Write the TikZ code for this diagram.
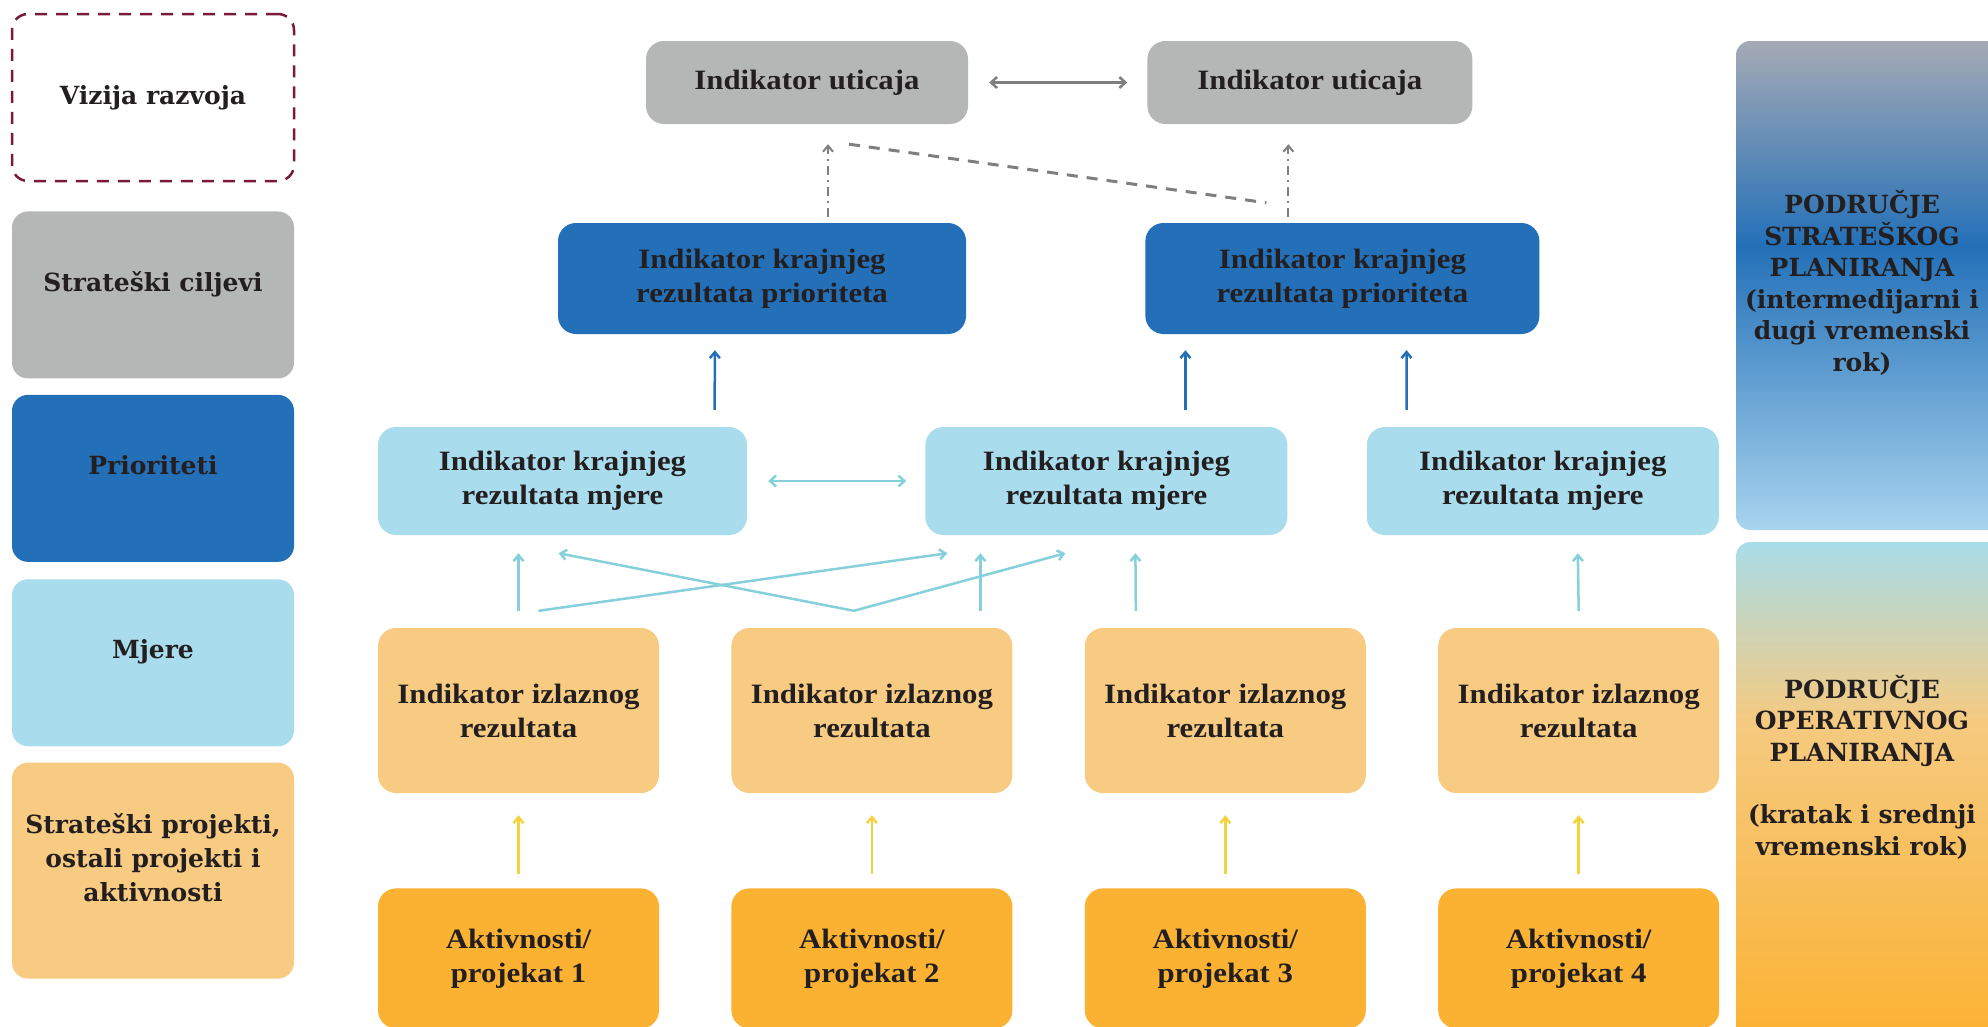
\documentclass[tikz,border=0pt]{standalone}
\usepackage{fontspec}
\usetikzlibrary{positioning, arrows.meta}
\setmainfont{Liberation Serif}
\newfontfamily\boxfont[FakeStretch=1.1]{Liberation Serif}
\newfontfamily\widefont{DejaVu Serif}
\definecolor{txtC}{HTML}{231F20}
\definecolor{grayC}{HTML}{B5B6B6}
\definecolor{blueC}{HTML}{2370B8}
\definecolor{lblueC}{HTML}{A9DDED}
\definecolor{lorangeC}{HTML}{F7CB82}
\definecolor{orangeC}{HTML}{FBB232}
\definecolor{visionC}{HTML}{7A1A3A}
\definecolor{garrC}{HTML}{7F7F7F}
\definecolor{larrC}{HTML}{86D0DC}
\definecolor{yarrC}{HTML}{F5D33F}
\definecolor{stratTop}{HTML}{A5AAB5}
\definecolor{stratBot}{HTML}{A8D4EE}
\definecolor{operTop}{HTML}{A9DDE9}
\definecolor{operMid}{HTML}{F5CA80}
\pgfdeclareverticalshading{stratshade}{100bp}{color(0bp)=(stratBot); color(25bp)=(stratBot); color(54bp)=(blueC); color(75bp)=(stratTop); color(100bp)=(stratTop)}
\pgfdeclareverticalshading{opershade}{100bp}{color(0bp)=(orangeC); color(25bp)=(orangeC); color(57bp)=(operMid); color(75bp)=(operTop); color(100bp)=(operTop)}

\begin{document}
\begin{tikzpicture}[x=1pt, y=1pt,
  lvl/.style={rectangle, rounded corners=16pt, minimum width=282pt,
              minimum height=167pt, align=center, text=txtC, inner sep=0pt,
              font=\widefont\bfseries\fontsize{25}{34}\selectfont},
  lvlup/.style={lvl, text depth=27pt},
  ind/.style={rectangle, rounded corners=18pt, align=center, text=txtC,
              inner sep=0pt, font=\boxfont\bfseries\fontsize{28}{34}\selectfont},
  izl/.style={ind, fill=lorangeC, minimum width=281pt, minimum height=165pt},
  akt/.style={ind, fill=orangeC, minimum width=281pt, minimum height=140pt},
  panel/.style={align=center, text=txtC,
                font=\widefont\bfseries\fontsize{25}{31.5}\selectfont},
  garr/.style={{Straight Barb[length=6pt, width=11pt]}-{Straight Barb[length=6pt, width=11pt]},
               line width=2.5pt, garrC},
  dotarr/.style={-{Straight Barb[length=6pt, width=10pt]}, line width=2pt, garrC,
                 dash pattern=on 9pt off 5pt on 2pt off 5pt},
  dashln/.style={line width=3pt, garrC, dash pattern=on 11pt off 9pt},
  bluearr/.style={-{Straight Barb[length=6pt, width=10pt]}, line width=2.5pt, blueC},
  lbarr/.style={-{Straight Barb[length=6pt, width=10pt]}, line width=2.5pt, larrC},
  lbarr2/.style={{Straight Barb[length=6pt, width=11pt]}-{Straight Barb[length=6pt, width=11pt]},
                 line width=2.5pt, larrC},
  yarr/.style={-{Straight Barb[length=6pt, width=10pt]}, line width=2.5pt, yarrC},
  node distance=72pt
]
\useasboundingbox (0,0) rectangle (1988,-1026);

\node[lvl, draw=visionC, line width=2.5pt, dash pattern=on 12pt off 9pt]
     (vizija) at (153,-97.5) {Vizija razvoja};
\node[lvlup, fill=grayC, below=29pt of vizija]   (ciljevi)  {Strateški ciljevi};
\node[lvlup, fill=blueC, below=16pt of ciljevi]  (prior)    {Prioriteti};
\node[lvlup, fill=lblueC, below=17pt of prior]   (mjere)    {Mjere};
\node[lvlup, fill=lorangeC, minimum height=216pt, below=16pt of mjere]
     (projekti) {Strateški projekti,\\ ostali projekti i\\ aktivnosti};

\node[ind, fill=grayC, minimum width=322pt, minimum height=83pt]
     (uticaj1) at (807,-82.5) {Indikator uticaja};
\node[ind, fill=grayC, minimum width=325pt, minimum height=83pt, right=179pt of uticaj1]
     (uticaj2) {Indikator uticaja};

\node[ind, fill=blueC, minimum width=408pt, minimum height=111pt]
     (kp1) at (762,-278.5) {Indikator krajnjeg\\ rezultata prioriteta};
\node[ind, fill=blueC, minimum width=394pt, minimum height=111pt, right=179pt of kp1]
     (kp2) {Indikator krajnjeg\\ rezultata prioriteta};

\node[ind, fill=lblueC, minimum width=369pt, minimum height=108pt]
     (mj1) at (562.5,-481) {Indikator krajnjeg\\ rezultata mjere};
\node[ind, fill=lblueC, minimum width=362pt, minimum height=108pt, right=178pt of mj1]
     (mj2) {Indikator krajnjeg\\ rezultata mjere};
\node[ind, fill=lblueC, minimum width=352pt, minimum height=108pt, right=79pt of mj2]
     (mj3) {Indikator krajnjeg\\ rezultata mjere};

\node[izl] (oi1) at (518.5,-710.5) {Indikator izlaznog\\ rezultata};
\node[izl, right=of oi1] (oi2) {Indikator izlaznog\\ rezultata};
\node[izl, right=of oi2] (oi3) {Indikator izlaznog\\ rezultata};
\node[izl, right=of oi3] (oi4) {Indikator izlaznog\\ rezultata};

\node[akt, below=95pt of oi1] (ak1) {Aktivnosti/\\ projekat 1};
\node[akt, below=95pt of oi2] (ak2) {Aktivnosti/\\ projekat 2};
\node[akt, below=95pt of oi3] (ak3) {Aktivnosti/\\ projekat 3};
\node[akt, below=95pt of oi4] (ak4) {Aktivnosti/\\ projekat 4};

\shade[shading=stratshade, rounded corners=14pt] (1736,-41) rectangle (2010,-530);
\node[panel] (stratpan) at (1862,-283)
     {PODRUČJE\\ STRATEŠKOG\\ PLANIRANJA\\ (intermedijarni i\\ dugi vremenski\\ rok)};
\shade[shading=opershade, rounded corners=14pt] (1736,-542) rectangle (2010,-1040);
\node[panel] (operpan) at (1862,-767)
     {PODRUČJE\\ OPERATIVNOG\\ PLANIRANJA\\[31pt] (kratak i srednji\\ vremenski rok)};

\draw[garr, shorten <=21pt, shorten >=20pt] (uticaj1) -- (uticaj2);
\draw[dotarr, shorten <=6pt, shorten >=20pt] ([xshift=66pt]kp1.north) -- ([xshift=21pt]uticaj1.south);
\draw[dotarr, shorten <=6pt, shorten >=20pt] ([xshift=-54pt]kp2.north) -- ([xshift=-21.5pt]uticaj2.south);
\draw[dashln] ([xshift=42pt, yshift=-20pt]uticaj1.south) -- ([xshift=-76pt, yshift=20pt]kp2.north);

\draw[bluearr, shorten <=17pt, shorten >=16pt] ([xshift=152pt]mj1.north) -- ([xshift=-47pt]kp1.south);
\draw[bluearr, shorten <=17pt, shorten >=16pt] ([xshift=79pt]mj2.north) -- ([xshift=-157pt]kp2.south);
\draw[bluearr, shorten <=17pt, shorten >=16pt] ([xshift=-136pt]mj3.north) -- ([xshift=64pt]kp2.south);

\draw[lbarr2, shorten <=21pt, shorten >=19pt] (mj1) -- (mj2);
\draw[lbarr] ([yshift=17pt]oi1.north) -- ([xshift=-44pt, yshift=-18pt]mj1.south);
\draw[lbarr] ([xshift=20pt, yshift=17pt]oi1.north) -- ([xshift=-159pt, yshift=-18pt]mj2.south);
\draw[lbarr] ([xshift=-18pt, yshift=17pt]oi2.north) -- ([xshift=-4pt, yshift=-18pt]mj1.south);
\draw[lbarr] ([xshift=-18pt, yshift=17pt]oi2.north) -- ([xshift=-41pt, yshift=-18pt]mj2.south);
\draw[lbarr] ([xshift=108.5pt, yshift=17pt]oi2.north) -- ([xshift=-126pt, yshift=-18pt]mj2.south);
\draw[lbarr] ([xshift=-89.5pt, yshift=17pt]oi3.north) -- ([xshift=29pt, yshift=-18pt]mj2.south);
\draw[lbarr] ([yshift=17pt]oi4.north) -- ([xshift=35pt, yshift=-18pt]mj3.south);

\draw[yarr, shorten <=14pt, shorten >=22pt] (ak1) -- (oi1);
\draw[yarr, shorten <=14pt, shorten >=22pt] (ak2) -- (oi2);
\draw[yarr, shorten <=14pt, shorten >=22pt] (ak3) -- (oi3);
\draw[yarr, shorten <=14pt, shorten >=22pt] (ak4) -- (oi4);
\end{tikzpicture}
\end{document}
